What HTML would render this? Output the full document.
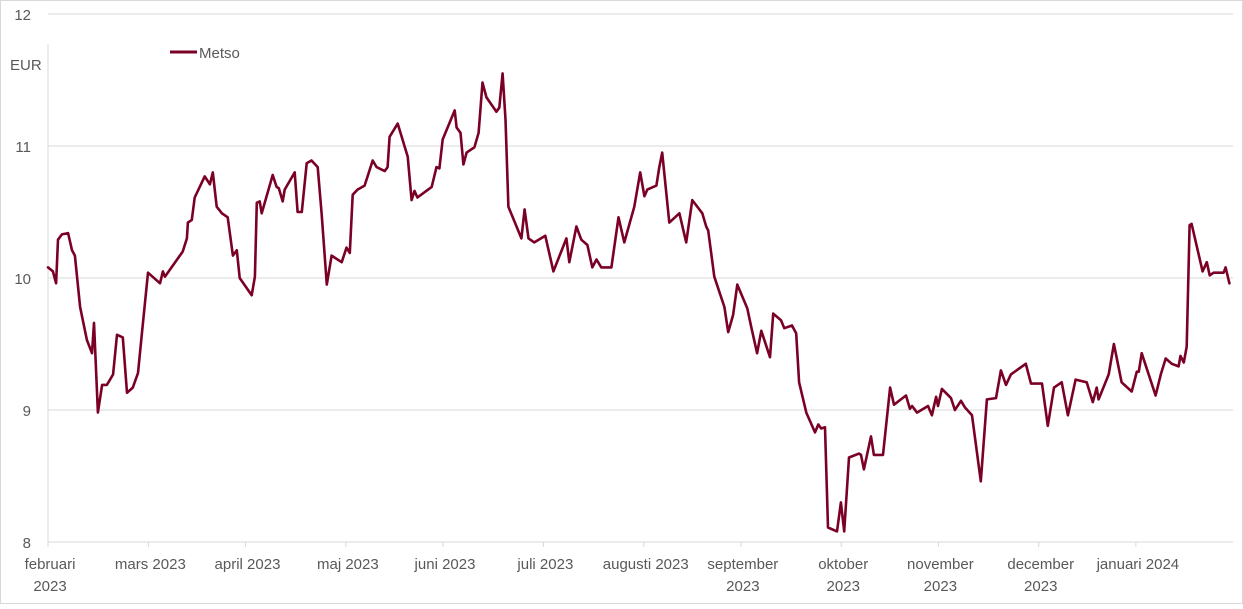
<!DOCTYPE html>
<html><head><meta charset="utf-8"><style>
html,body{margin:0;padding:0;background:#fff;}
svg text{font-family:"Liberation Sans",sans-serif;fill:#595959;font-size:15px;}
</style></head><body>
<svg id="chart" width="1243" height="604" xmlns="http://www.w3.org/2000/svg">
<rect x="0.5" y="0.5" width="1242" height="603" fill="#fff" stroke="#d9d9d9"/>
<g id="grid"></g><g id="axes"></g><g id="series"></g>
<text x="10" y="70">EUR</text>
<g>
<line x1="170" y1="52" x2="197" y2="52" stroke="#7b0025" stroke-width="3"/>
<text x="199" y="58">Metso</text>
</g>
</svg>
<script>
const days=[0,1.5,2.5,3.1,4.3,6.2,7.4,8.3,9.9,12.0,13.6,14.2,15.4,16.7,18.2,20.1,21.3,23.1,24.4,26.2,27.8,29.0,30.9,34.6,35.5,36.1,41.6,42.9,43.2,44.4,45.3,48.4,50.0,50.9,52.1,53.7,55.5,57.1,58.3,59.2,62.9,63.9,64.5,65.4,66.0,69.4,70.6,71.3,72.5,73.1,76.2,77.1,78.4,79.9,81.4,83.3,84.5,86.1,87.6,90.7,92.2,93.2,94.1,95.6,97.8,100.3,101.5,104.0,104.9,105.5,108.0,111.1,112.3,113.2,114.1,118.5,120.0,120.9,121.9,125.6,126.2,127.4,128.3,129.3,131.7,133.0,134.2,135.4,138.5,139.4,140.4,141.3,142.2,146.2,147.2,148.4,150.2,153.6,156.1,160.1,161.0,163.2,164.7,166.6,168.1,169.4,170.9,174.0,176.2,178.0,181.1,182.9,184.2,185.1,187.9,188.8,189.7,191.9,195.0,197.1,199.0,202.1,203.3,203.9,205.8,208.9,210.1,211.6,212.9,216.0,217.2,219.0,220.3,223.0,224.0,226.4,227.4,229.8,231.1,232.0,234.2,236.9,237.9,238.8,240.0,240.9,243.7,244.9,245.9,247.4,250.5,251.1,252.0,254.2,255.1,257.9,260.1,261.3,265.0,266.2,266.9,268.4,271.8,273.0,274.3,274.9,276.1,278.9,280.1,282.0,283.2,285.4,288.1,290.0,292.8,294.3,295.9,297.4,302.0,303.6,307.0,308.8,310.7,313.1,315.0,317.4,320.8,322.7,323.9,324.5,327.6,329.2,331.6,334.7,336.3,336.9,337.8,342.1,343.7,345.2,347.1,349.2,349.8,350.8,351.7,352.6,353.2,356.6,357.9,358.8,360.0,363.1,363.7,364.9];
const prices=[10.08,10.05,9.96,10.29,10.33,10.34,10.21,10.17,9.78,9.53,9.43,9.66,8.98,9.19,9.19,9.27,9.57,9.55,9.13,9.17,9.28,9.58,10.04,9.96,10.05,10.01,10.20,10.30,10.42,10.44,10.61,10.77,10.71,10.80,10.54,10.49,10.46,10.17,10.21,10.00,9.87,10.01,10.57,10.58,10.49,10.78,10.69,10.68,10.58,10.67,10.80,10.50,10.50,10.87,10.89,10.84,10.49,9.95,10.17,10.12,10.23,10.19,10.63,10.67,10.70,10.89,10.84,10.81,10.84,11.07,11.17,10.92,10.59,10.66,10.61,10.69,10.84,10.83,11.05,11.27,11.14,11.10,10.86,10.95,10.99,11.10,11.48,11.37,11.26,11.29,11.55,11.20,10.54,10.30,10.52,10.30,10.27,10.32,10.05,10.30,10.12,10.39,10.29,10.25,10.08,10.14,10.08,10.08,10.46,10.27,10.54,10.80,10.62,10.67,10.70,10.84,10.95,10.42,10.49,10.27,10.59,10.49,10.39,10.36,10.01,9.78,9.59,9.72,9.95,9.77,9.63,9.43,9.60,9.40,9.73,9.68,9.62,9.64,9.58,9.21,8.98,8.83,8.89,8.86,8.87,8.11,8.08,8.30,8.08,8.64,8.67,8.66,8.55,8.80,8.66,8.66,9.17,9.04,9.11,9.01,9.03,8.98,9.03,8.96,9.10,9.03,9.16,9.09,9.00,9.07,9.02,8.96,8.46,9.08,9.09,9.30,9.19,9.27,9.35,9.20,9.20,8.88,9.17,9.21,8.96,9.23,9.21,9.06,9.17,9.08,9.27,9.50,9.21,9.14,9.29,9.29,9.43,9.11,9.27,9.39,9.35,9.33,9.41,9.36,9.48,10.40,10.41,10.05,10.12,10.02,10.04,10.04,10.08,9.96];
const yTicks=[8,9,10,11,12];
const monthDays=[0,31,61,92,122,153,184,214,245,275,306,336];
const monthLabels=[["februari","2023"],["mars 2023"],["april 2023"],["maj 2023"],["juni 2023"],["juli 2023"],["augusti 2023"],["september","2023"],["oktober","2023"],["november","2023"],["december","2023"],["januari 2024"]];

const NS="http://www.w3.org/2000/svg";
const X0=48,X1=1233,Y0=542,Y1=14;
function xS(d){return X0+d*(1185/366);}
function yS(v){return Y0-(v-8)*(Y0-Y1)/4;}
function mk(tag,attrs,parent){const e=document.createElementNS(NS,tag);for(const k in attrs)e.setAttribute(k,attrs[k]);parent.appendChild(e);return e;}
const grid=document.getElementById('grid'),axes=document.getElementById('axes'),series=document.getElementById('series');
yTicks.forEach(v=>{
  const l=mk('line',{x1:X0,x2:X1,y1:yS(v),y2:yS(v),stroke:'#d9d9d9','stroke-width':1},grid);
  
  
  const t=mk('text',{x:31,y:yS(v)+6,'text-anchor':'end','font-size':'16'},axes);
  t.textContent=v;
  
  
});
const ya=mk('line',{x1:X0,x2:X0,y1:Y1+30,y2:Y0,stroke:'#d9d9d9'},axes);


monthDays.forEach((d,i)=>{
  const x=xS(d);
  const tk=mk('line',{x1:x,x2:x,y1:Y0,y2:Y0+5,stroke:'#d9d9d9'},axes);
  
  
  const t=mk('text',{x:x+2,y:569,'text-anchor':'middle'},axes);
  
  
  monthLabels[i].forEach((s,j)=>{const ts=mk('tspan',{x:x+2,dy:j?22:0},t);ts.textContent=s;});
});
let dstr='';
days.forEach((d,i)=>{dstr+=(i?'L':'M')+xS(d).toFixed(1)+' '+yS(prices[i]).toFixed(1);});
const p=mk('path',{d:dstr,fill:'none',stroke:'#7b0025','stroke-width':2.6,'stroke-linejoin':'round','stroke-linecap':'round'},series);


</script>
</body></html>
